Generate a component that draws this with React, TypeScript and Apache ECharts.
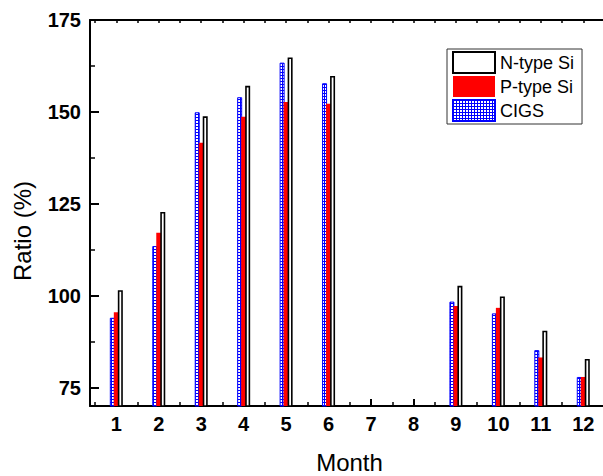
import React, { useEffect, useRef } from "react";
import * as echarts from "echarts";

const months = [1, 2, 3, 4, 5, 6, 7, 8, 9, 10, 11, 12];
const nType = [101.5, 122.8, 148.8, 157.1, 164.8, 159.8, null, null, 102.7, 99.8, 90.5, 82.8];
const pType = [95.5, 117.1, 141.6, 148.7, 152.7, 152.2, null, null, 97.2, 96.7, 83.2, 77.9];
const cigs = [94.0, 113.5, 149.9, 154.0, 163.4, 157.8, null, null, 98.4, 95.2, 85.2, 77.9];
const yMajorTicks = [75, 100, 125, 150, 175];
const yMinorTicks = [87.5, 112.5, 137.5, 162.5];
const xMinorTicks = [0.5, 1.5, 2.5, 3.5, 4.5, 5.5, 6.5, 7.5, 8.5, 9.5, 10.5, 11.5, 12.5];
const seriesNames = ["N-type Si", "P-type Si", "CIGS"];

const FONT = "'Liberation Sans', Arial, Helvetica, sans-serif";

function toPairs(vals: (number | null)[]) {
  const out: [number, number][] = [];
  vals.forEach((v, i) => {
    if (v !== null) out.push([months[i], v]);
  });
  return out;
}

export default function App() {
  const ref = useRef<HTMLDivElement>(null);
  useEffect(() => {
    document.body.style.margin = "0";
    if (!ref.current) return;
    const chart = echarts.init(ref.current, null, { renderer: "svg" });

    const cv = document.createElement("canvas");
    cv.width = 3;
    cv.height = 3;
    const ctx = cv.getContext("2d")!;
    ctx.fillStyle = "#ffffff";
    ctx.fillRect(0, 0, 3, 3);
    ctx.fillStyle = "#0000ff";
    ctx.fillRect(0, 0, 3, 1);
    ctx.fillRect(0, 0, 1, 3);
    const pattern: any = { image: cv.toDataURL(), repeat: "repeat", imageWidth: 3, imageHeight: 3 };

    const xMin = 0.38;
    const xMax = 12.62;
    const axisLineStyle = { color: "#000", width: 2 };

    const option: any = {
      animation: false,
      backgroundColor: "#fff",
      grid: { left: 90, top: 20, width: 519.6, height: 386, containLabel: false, outerBoundsMode: "none" },
      legend: {
        data: seriesNames,
        orient: "vertical",
        left: 447,
        top: 49,
        padding: [2, 8, 2, 5],
        itemWidth: 42,
        itemHeight: 21,
        itemGap: 2,
        icon: "rect",
        backgroundColor: "#fff",
        borderColor: "#333",
        borderWidth: 1,
        textStyle: { fontSize: 18, fontFamily: FONT, color: "#000", padding: [0, 0, 0, 0] },
      },
      xAxis: [
        {
          type: "value",
          position: "bottom",
          min: xMin,
          max: xMax,
          axisLine: { show: true, onZero: false, lineStyle: axisLineStyle },
          axisTick: { show: true, inside: true, length: 7, customValues: months, lineStyle: { color: "#000", width: 2 } },
          axisLabel: {
            customValues: months,
            fontSize: 20,
            fontWeight: "bold",
            fontFamily: FONT,
            color: "#000",
            margin: 8,
          },
          splitLine: { show: false },
        },
        {
          type: "value",
          position: "bottom",
          min: xMin,
          max: xMax,
          axisLine: { show: false, onZero: false },
          axisTick: { show: true, inside: true, length: 4, customValues: xMinorTicks, lineStyle: { color: "#000", width: 1.5 } },
          axisLabel: { show: false },
          splitLine: { show: false },
        },
        {
          type: "value",
          position: "top",
          min: xMin,
          max: xMax,
          axisLine: { show: true, onZero: false, lineStyle: axisLineStyle },
          axisTick: {
            show: true,
            inside: true,
            length: 3,
            customValues: [...months, ...xMinorTicks],
            lineStyle: { color: "#000", width: 1.5 },
          },
          axisLabel: { show: false },
          splitLine: { show: false },
        },
      ],
      yAxis: [
        {
          type: "value",
          position: "left",
          min: 70,
          max: 175,
          axisLine: { show: true, onZero: false, lineStyle: axisLineStyle },
          axisTick: { show: true, inside: true, length: 9, customValues: yMajorTicks, lineStyle: { color: "#000", width: 2 } },
          axisLabel: {
            customValues: yMajorTicks,
            fontSize: 20,
            fontWeight: "bold",
            fontFamily: FONT,
            color: "#000",
            margin: 9,
          },
          splitLine: { show: false },
        },
        {
          type: "value",
          position: "left",
          min: 70,
          max: 175,
          axisLine: { show: false, onZero: false },
          axisTick: { show: true, inside: true, length: 5, customValues: yMinorTicks, lineStyle: { color: "#000", width: 1.5 } },
          axisLabel: { show: false },
          splitLine: { show: false },
        },
        {
          type: "value",
          position: "right",
          min: 70,
          max: 175,
          axisLine: { show: true, onZero: false, lineStyle: axisLineStyle },
          axisTick: { show: false },
          axisLabel: { show: false },
          splitLine: { show: false },
        },
      ],
      series: [
        {
          name: "CIGS",
          type: "bar",
          xAxisIndex: 0,
          yAxisIndex: 0,
          barWidth: 5,
          barGap: "-20%",
          data: toPairs(cigs),
          itemStyle: { color: pattern, borderColor: "#0000ff", borderWidth: 1 },
        },
        {
          name: "P-type Si",
          type: "bar",
          xAxisIndex: 0,
          yAxisIndex: 0,
          barWidth: 5,
          barGap: "-20%",
          data: toPairs(pType),
          itemStyle: { color: "#ff0000", borderWidth: 0 },
        },
        {
          name: "N-type Si",
          type: "bar",
          xAxisIndex: 0,
          yAxisIndex: 0,
          barWidth: 5,
          barGap: "-20%",
          data: toPairs(nType),
          itemStyle: { color: "#ffffff", borderColor: "#000000", borderWidth: 1.6 },
        },
      ],
      graphic: [
        {
          type: "text",
          x: 349.5,
          y: 462.5,
          style: {
            text: "Month",
            fontSize: 24,
            fontFamily: FONT,
            fill: "#000",
            align: "center",
            verticalAlign: "middle",
          },
        },
        {
          type: "text",
          x: 22,
          y: 231,
          rotation: Math.PI / 2,
          style: {
            text: "Ratio (%)",
            fontSize: 24,
            fontFamily: FONT,
            fill: "#000",
            align: "center",
            verticalAlign: "middle",
          },
        },
      ],
    };
    chart.setOption(option);
    return () => chart.dispose();
  }, []);
  return <div ref={ref} style={{ width: 603, height: 476, position: "absolute", left: 0, top: 0 }} />;
}
